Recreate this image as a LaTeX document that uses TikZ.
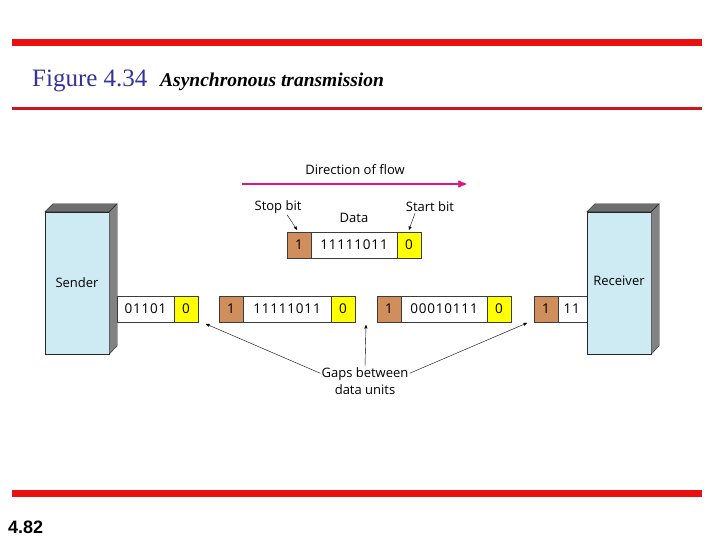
\documentclass[tikz,border=0pt]{standalone}
\usepackage{fontspec}
\setmainfont{Liberation Serif}
\setsansfont{Open Sans}
\newfontfamily\pagefont{Liberation Sans}
\newfontfamily\bitfont[LetterSpace=6]{Open Sans}
\usepackage{tikz}
\usetikzlibrary{arrows}
\definecolor{bar_red}{RGB}{234,16,16}
\definecolor{line_red}{RGB}{204,22,28}
\definecolor{title_blue}{RGB}{51,51,153}
\definecolor{flow_pink}{RGB}{226,20,130}
\definecolor{box_blue}{RGB}{206,235,243}
\definecolor{side_gray}{RGB}{130,130,130}
\definecolor{top_gray}{RGB}{110,110,110}
\definecolor{stop_brown}{RGB}{207,142,92}
\definecolor{start_yellow}{RGB}{255,255,0}
\definecolor{cell_border}{RGB}{60,60,60}

\begin{document}
\begin{tikzpicture}[x=1pt,y=-1pt,>=stealth',font=\sffamily\fontsize{13}{17}\selectfont]
    \tikzstyle{cell}=[draw=cell_border, thin, minimum height=26pt, inner sep=0pt, text=black, font=\bitfont\fontsize{13.5}{15}\selectfont]
    \tikzstyle{stopcell}=[cell, fill=stop_brown, minimum width=24pt]
    \tikzstyle{startcell}=[cell, fill=start_yellow, minimum width=24pt]
    \tikzstyle{datacell}=[cell, fill=white, minimum width=87pt]
    \tikzstyle{station}=[draw=black!85, thin, fill=box_blue, minimum width=64pt, minimum height=142pt, inner sep=0pt]
    \tikzstyle{tag}=[inner sep=1pt, text=black]
    \tikzstyle{pointer}=[->, thin, black]

    \useasboundingbox (0,0) rectangle (720,540);

    % page frame
    \draw[bar_red, line width=7pt] (12,42.5) -- (702,42.5);
    \draw[line_red, line width=2.5pt] (12,108.5) -- (702,108.5);
    \draw[bar_red, line width=7pt] (12,493) -- (702,493);
    \node[anchor=base west, inner sep=0pt, text=title_blue, font=\rmfamily\fontsize{25}{27}\selectfont] (figno) at (32,87) {Figure 4.34};
    \node[anchor=base west, inner sep=0pt, font=\rmfamily\bfseries\itshape\fontsize{19.5}{21}\selectfont] (figtitle) at (160,87) {Asynchronous transmission};
    \node[anchor=base west, inner sep=0pt, font=\pagefont\bfseries\fontsize{18}{20}\selectfont] (pageno) at (8,533) {4.82};

    % sender
    \node[station] (sender) at (77,283) {Sender};
    \filldraw[fill=top_gray, draw=black!85, thin] (sender.north west) -- ++(8,-8) -- ++(64,0) -- (sender.north east) -- cycle;
    \filldraw[fill=side_gray, draw=black!85, thin] (sender.north east) -- ++(8,-8) -- ++(0,142) -- (sender.south east) -- cycle;

    % units on the line
    \node[datacell, minimum width=57pt] (d1)  at (145.5,309) {01101};
    \node[startcell] (s1) at (186,309) {0};
    \node[stopcell]  (p2) at (231,309) {1};
    \node[datacell, minimum width=88pt]  (d2) at (287,309) {11111011};
    \node[startcell] (s2) at (343,309) {0};
    \node[stopcell]  (p3) at (389,309) {1};
    \node[datacell, minimum width=86pt]  (d3) at (444,309) {00010111};
    \node[startcell] (s3) at (499,309) {0};
    \node[stopcell]  (p4) at (546,309) {1};
    \node[datacell, minimum width=29pt, text width=24pt, align=left] (d4) at (572.5,309) {\hspace*{3pt}11};

    % receiver
    \node[station] (receiver) at (619,283) {};
    \node[tag] (rlabel) at (619,281) {Receiver};
    \filldraw[fill=top_gray, draw=black!85, thin] (receiver.north west) -- ++(8,-8) -- ++(64,0) -- (receiver.north east) -- cycle;
    \filldraw[fill=side_gray, draw=black!85, thin] (receiver.north east) -- ++(8,-8) -- ++(0,142) -- (receiver.south east) -- cycle;

    % one unit, labelled
    \node[stopcell]  (exstop)  at (299,245) {1};
    \node[datacell, minimum width=86pt] (exdata) at (354,245) {11111011};
    \node[startcell] (exstart) at (409,245) {0};
    \node[tag] (stoplbl)  at (278,207) {Stop bit};
    \node[tag] (startlbl) at (430,207) {Start bit};
    \node[tag] (datalbl)  at (354,218) {Data};
    \path
     ([xshift=9pt]stoplbl.south)   edge[pointer] ([xshift=-2pt,yshift=2pt]exstop.north)
     ([xshift=-15pt]startlbl.south) edge[pointer] ([yshift=2pt]exstart.north)
     ;

    % direction of flow
    \node[tag] (flowlbl) at (355,170) {Direction of flow};
    \coordinate (flowtail) at (242,184);
    \coordinate (flowhead) at (466,184);
    \draw[->, flow_pink, line width=1.8pt] (flowtail) -- (flowhead);

    % gaps
    \node[tag, align=center] (gaps) at (365,381) {Gaps between\\data units};
    \coordinate (gap1) at (206,324);
    \coordinate (gap2) at (366,325);
    \coordinate (gap3) at (527,323);
    \path
     ([yshift=-7pt]gaps.north west) edge[pointer] (gap1)
     (gaps.north)                   edge[pointer] (gap2)
     ([yshift=-7pt]gaps.north east) edge[pointer] (gap3)
     ;
\end{tikzpicture}
\end{document}
